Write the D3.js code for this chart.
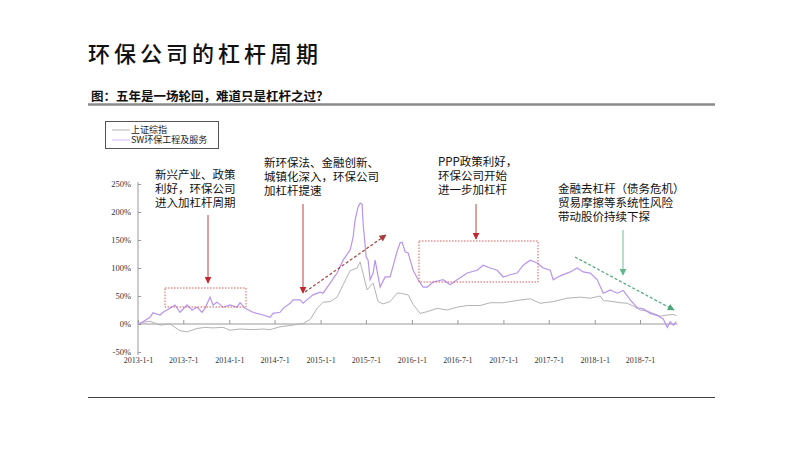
<!DOCTYPE html>
<html><head><meta charset="utf-8">
<script src="https://cdn.jsdelivr.net/npm/d3@7/dist/d3.min.js"></script>
<style>body{margin:0;background:#fff}svg{display:block}</style>
</head><body><svg id="c" width="800" height="450"></svg>
<script>
const xTickLabels = ["2013-1-1","2013-7-1","2014-1-1","2014-7-1","2015-1-1","2015-7-1","2016-1-1","2016-7-1","2017-1-1","2017-7-1","2018-1-1","2018-7-1"];
const yTickValues = [-50,0,50,100,150,200,250];
const seriesNames = ["上证综指","SW环保工程及服务"];
const envDates = ["2013-01-01","2013-01-21","2013-02-18","2013-03-02","2013-03-30","2013-04-11","2013-05-09","2013-05-29","2013-06-18","2013-07-16","2013-08-05","2013-08-25","2013-09-14","2013-09-26","2013-10-16","2013-10-28","2013-11-13","2013-12-07","2014-01-04","2014-02-01","2014-02-13","2014-03-05","2014-04-06","2014-05-16","2014-06-13","2014-06-25","2014-07-23","2014-08-04","2014-09-01","2014-09-13","2014-10-11","2014-10-23","2014-11-20","2014-12-02","2014-12-30","2015-01-11","2015-02-08","2015-03-08","2015-04-01","2015-04-29","2015-05-11","2015-05-19","2015-05-31","2015-06-08","2015-06-16","2015-06-20","2015-07-02","2015-07-10","2015-07-18","2015-07-30","2015-08-07","2015-08-27","2015-09-16","2015-10-06","2015-11-03","2015-11-15","2015-11-23","2015-12-05","2015-12-17","2016-01-06","2016-01-26","2016-02-15","2016-03-02","2016-03-26","2016-05-05","2016-06-02","2016-06-30","2016-08-09","2016-09-18","2016-10-12","2016-11-09","2016-12-07","2016-12-31","2017-01-28","2017-02-25","2017-03-21","2017-04-18","2017-05-16","2017-06-09","2017-07-07","2017-07-19","2017-08-16","2017-09-25","2017-10-23","2017-11-16","2017-12-14","2018-01-11","2018-02-04","2018-03-04","2018-04-01","2018-04-25","2018-05-23","2018-06-20","2018-07-14","2018-08-11","2018-09-08","2018-10-02","2018-10-18","2018-10-30","2018-11-11","2018-11-23"];
const envValues = [0,4,12,20,16,21,28,34,21,34,25,30,21,28,48,34,39,30,34,30,38,28,21,16,12,19,21,28,37,43,43,37,48,52,57,55,73,91,114,132,155,186,209,216,214,180,120,114,79,91,114,66,84,84,130,145,146,129,127,96,79,66,66,75,79,70,79,91,96,105,100,96,84,88,91,105,114,109,100,96,79,86,93,100,93,91,79,55,61,55,60,43,29,27,19,15,9,-6,4,-2,4];
const shDates = ["2013-01-01","2013-01-21","2013-02-18","2013-03-30","2013-05-09","2013-06-18","2013-07-16","2013-08-25","2013-09-26","2013-10-28","2013-12-07","2014-01-04","2014-02-13","2014-04-06","2014-05-16","2014-06-13","2014-07-23","2014-09-13","2014-10-23","2014-11-20","2014-12-18","2015-01-11","2015-02-08","2015-03-08","2015-04-01","2015-04-29","2015-05-27","2015-06-08","2015-06-20","2015-07-06","2015-07-30","2015-08-19","2015-09-08","2015-10-06","2015-11-03","2015-11-15","2015-12-17","2016-01-06","2016-02-03","2016-03-02","2016-04-11","2016-05-21","2016-06-30","2016-08-09","2016-09-30","2016-11-09","2016-12-31","2017-02-25","2017-04-18","2017-05-28","2017-07-19","2017-09-12","2017-11-04","2017-12-14","2018-01-23","2018-02-04","2018-03-16","2018-04-13","2018-05-11","2018-06-04","2018-07-02","2018-07-30","2018-08-23","2018-09-20","2018-10-18","2018-11-11","2018-11-23"];
const shValues = [0,3,5,-2,0,-12,-14,-8,-6,-7,-6,-11,-9,-10,-9,-10,-5,-2,1,8,28,39,40,48,70,95,100,111,90,61,73,40,36,40,55,55,52,35,19,22,28,25,30,33,33,38,38,42,45,37,40,46,48,46,50,42,40,38,37,32,25,23,19,14,16,17,15];

const parse = d3.timeParse("%Y-%m-%d");
const parseTick = d3.timeParse("%Y-%-m-%-d");
const svg = d3.select("#c");
const cjk = "'Noto Sans CJK SC','Noto Sans',sans-serif";

// title
svg.append("text").attr("x",88).attr("y",62).attr("font-family",cjk).attr("font-size",22).attr("font-weight",500)
  .attr("letter-spacing",4).attr("fill","#111").text("环保公司的杠杆周期");
svg.append("text").attr("x",91).attr("y",101).attr("font-family",cjk).attr("font-size",12.5).attr("font-weight",700)
  .attr("fill","#111").text("图：五年是一场轮回，难道只是杠杆之过？");
svg.append("line").attr("x1",88).attr("x2",715).attr("y1",104.5).attr("y2",104.5).attr("stroke","#8a8a8a").attr("stroke-width",2.5);
svg.append("line").attr("x1",88).attr("x2",715).attr("y1",397.5).attr("y2",397.5).attr("stroke","#444").attr("stroke-width",1);

// scales
const x = d3.scaleTime().domain([parse("2013-01-01"), parse("2018-07-01")]).range([138, 640]);
const y = d3.scaleLinear().domain([-50, 250]).range([352, 184]);

// axes
const xAxis = d3.axisBottom(x).tickValues(xTickLabels.map(parseTick)).tickFormat((d,i)=>xTickLabels[i])
  .tickSizeInner(-4).tickSizeOuter(0).tickPadding(33);
const gx = svg.append("g").attr("transform",`translate(0,${y(0)})`).call(xAxis);
gx.select(".domain").attr("d",`M138,0H${x(parse("2018-11-28"))}`).attr("stroke","#999");
gx.selectAll(".tick line").attr("stroke","#999");
gx.selectAll("text").attr("font-family","'Liberation Serif',serif").attr("font-size",8).attr("fill","#333");

const yAxis = d3.axisLeft(y).tickValues(yTickValues).tickFormat(d=>d+"%").tickSizeInner(-3).tickSizeOuter(0).tickPadding(7);
const gy = svg.append("g").attr("transform","translate(138,0)").call(yAxis);
gy.select(".domain").attr("d","M0,182V355").attr("stroke","#999");
gy.selectAll(".tick line").attr("stroke","#999");
gy.selectAll("text").attr("font-family","'Liberation Serif',serif").attr("font-size",8.5).attr("fill","#333");

// lines
const line = d3.line().x(d=>x(d[0])).y(d=>y(d[1]));
const shData = shDates.map((d,i)=>[parse(d), shValues[i]]);
const envData = envDates.map((d,i)=>[parse(d), envValues[i]]);
svg.append("path").datum(shData).attr("d",line).attr("fill","none").attr("stroke","#b3b3b3").attr("stroke-width",1);
svg.append("path").datum(envData).attr("d",line).attr("fill","none").attr("stroke","#b994ee").attr("stroke-width",1.2);

// legend
const lg = svg.append("g");
lg.append("rect").attr("x",105.5).attr("y",121.5).attr("width",113).attr("height",27).attr("fill","#fff").attr("stroke","#555");
[["#b3b3b3",130],["#d0b8f4",140]].forEach((c,i)=>{
  lg.append("line").attr("x1",112).attr("x2",130).attr("y1",c[1]).attr("y2",c[1]).attr("stroke",c[0]).attr("stroke-width",1);
  lg.append("text").attr("x",131).attr("y",c[1]+3).attr("font-family",cjk).attr("font-size",9).attr("fill","#222").text(seriesNames[i]);
});

// annotations
const defs = svg.append("defs");
function marker(id,color){
  defs.append("marker").attr("id",id).attr("viewBox","0 0 10 10").attr("refX",9).attr("refY",5)
    .attr("markerWidth",7).attr("markerHeight",7).attr("markerUnits","userSpaceOnUse").attr("orient","auto")
    .append("path").attr("d","M0,0L10,5L0,10z").attr("fill",color);
}
marker("mr","#c0282d"); marker("mg","#5fb88a"); marker("md","#a83c3c"); marker("mg2","#4aa878");
function txt(lines,x0,y0){
  const t = svg.append("text").attr("font-family",cjk).attr("font-size",11.5).attr("fill","#111");
  lines.forEach((s,i)=>t.append("tspan").attr("x",x0).attr("y",y0+i*14).text(s));
}
function arrow(x1,y1,x2,y2,color,m,dash,w){
  svg.append("line").attr("x1",x1).attr("y1",y1).attr("x2",x2).attr("y2",y2).attr("stroke",color).attr("stroke-width",w||1)
    .attr("stroke-dasharray",dash||null).attr("marker-end",`url(#${m})`);
}
txt(["新兴产业、政策","利好，环保公司","进入加杠杆周期"],155,179);
arrow(208,215,208,283,"#c24040","mr");
svg.append("rect").attr("x",165).attr("y",288).attr("width",81).attr("height",19).attr("fill","none").attr("stroke","#e05a5a").attr("stroke-dasharray","1.5,1.5");

txt(["新环保法、金融创新、","城镇化深入，环保公司","加杠杆提速"],264,167);
arrow(303,204,303,293,"#c24040","mr");
arrow(305,292,386,235,"#a83c3c","md","3,2",1.2);

txt(["PPP政策利好，","环保公司开始","进一步加杠杆"],438,166);
arrow(476,204,476,239,"#c24040","mr");
svg.append("rect").attr("x",419).attr("y",241).attr("width",119).attr("height",41).attr("fill","none").attr("stroke","#e05a5a").attr("stroke-dasharray","1.5,1.5");

txt(["金融去杠杆（债务危机）","贸易摩擦等系统性风险","带动股价持续下探"],558,193);
arrow(623,230,623,275,"#6fbf95","mg");
arrow(575,257,674,310,"#4aa878","mg2","3,2",1.2);
</script></body></html>
